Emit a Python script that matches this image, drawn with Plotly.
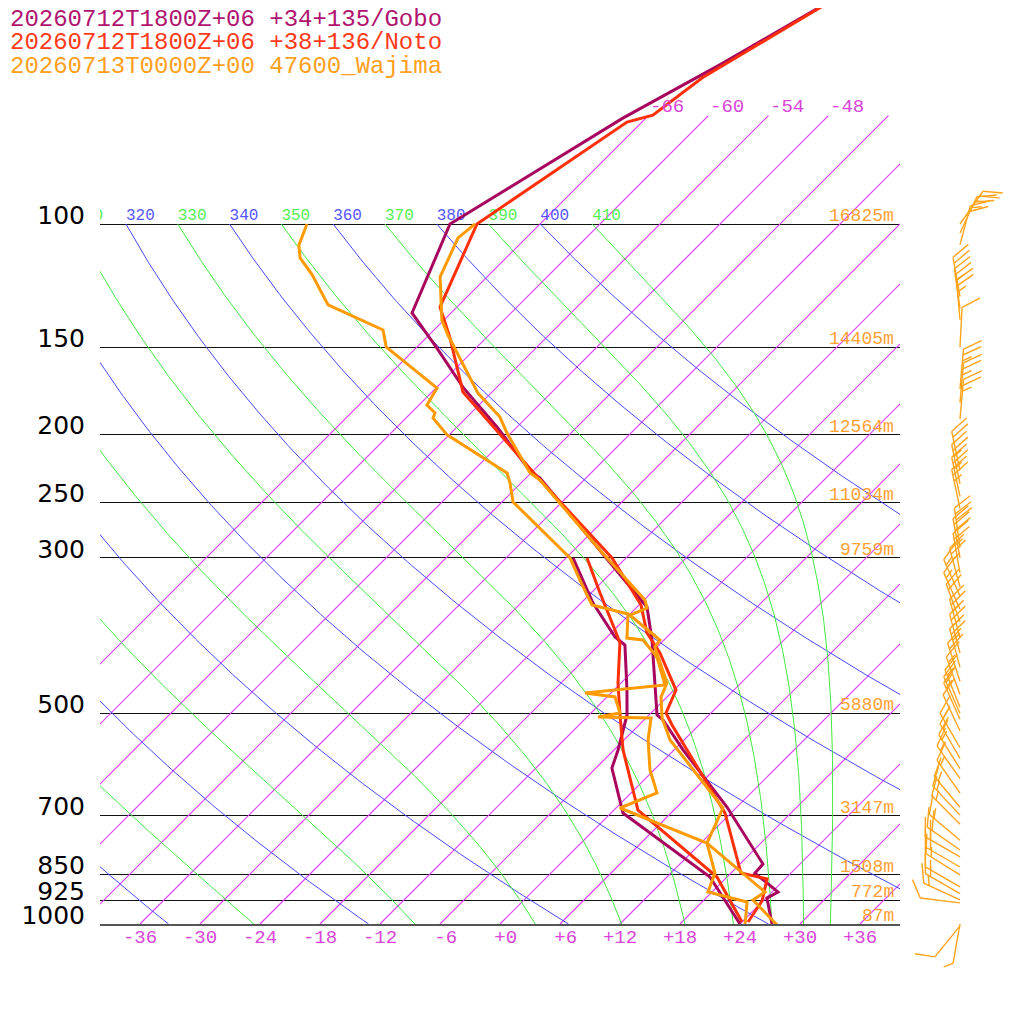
import numpy as np
import plotly.graph_objects as go

# ============================ data ============================
# pressure (hPa) / temperature (degC)

# Gobo (model +06)
gobo_p = [40, 58.9, 70.6, 100, 134, 150.4, 171, 195, 225.3, 230.6, 344.5, 352.5,
          392.9, 455.6, 502.8, 511.1, 564.1, 680.6, 821, 845.7, 900.1, 918.2, 1000]
gobo_t = [-55.2, -63.8, -68.3, -75.0, -69.9, -63.9, -57.4, -50.0, -42.3, -40.6, -18.3, -17.0,
          -13.2, -8.4, -5.2, -4.1, 0.9, 11.0, 20.3, 20.4, 24.6, 24.1, 27.2]
gobo_td_p = [300, 347.9, 389, 399.5, 463.2, 502.8, 564.1, 598.8, 694.1, 856.8, 1000]
gobo_td = [-29.3, -22.8, -17.2, -15.4, -10.7, -8.2, -5.6, -4.4, 1.2, 16.3, 24.0]

# Noto (model +06)
noto_p = [40, 61.8, 69.9, 71.5, 100, 131.4, 145.5, 173.8, 232.1, 300, 350.2, 384,
          410.1, 463.2, 499.5, 519.6, 694.1, 845.7, 862.3, 927.1, 993.4]
noto_t = [-55.4, -64.4, -65.6, -67.5, -72.3, -67.7, -63.6, -56.9, -40.4, -25.4, -17.8, -14.4,
          -11.1, -5.8, -4.5, -2.7, 11.4, 19.0, 22.2, 23.9, 24.6]
noto_td_p = [300, 336.6, 380.2, 396.9, 452.6, 502.8, 564.1, 687.4, 856.8, 993.4]
noto_td = [-27.9, -23.1, -17.9, -16.1, -12.3, -8.9, -5.1, 2.4, 17.0, 24.0]

# Wajima (observed 00Z)
waj_p = [100, 104.7, 119, 137.2, 144.1, 174.4, 188.7, 198.9, 226.8, 232.1, 292.3, 344.5,
         353.7, 362, 392.9, 402.2, 452.6, 473.9, 507.7, 545.8, 682.8, 766.2, 900.1, 924.1, 1006.6]
waj_t = [-72.5, -72.8, -70.7, -66.2, -64.1, -55.3, -50.7, -48.4, -42.1, -40.4, -27.4, -17.9,
         -16.9, -17.9, -12.4, -12.2, -7.4, -6.6, -4.4, -1.4, 10.7, 12.6, 23.3, 22.9, 28.0]
waj_td_p = [100, 107.2, 111.8, 118.2, 130.5, 141.7, 149.8, 171.5, 181.4, 186.2, 189.3, 200.1,
            226.8, 234.4, 249.5, 300, 322.6, 350.2, 360.7, 390.4, 392.9, 415.5, 455.6, 467.7,
            473.9, 499.5, 506.1, 507.7, 545.8, 602.6, 649.8, 682.8, 766.2, 845.7, 900.1, 930.2, 1006.6]
waj_td = [-89.3, -88.0, -86.6, -83.7, -79.1, -71.1, -69.1, -59.9, -59.2, -57.6, -57.3, -54.2,
          -44.4, -43.1, -40.9, -29.6, -26.4, -22.7, -18.2, -15.9, -14.1, -11.0, -7.4, -14.6,
          -11.2, -9.1, -10.9, -5.5, -3.6, -0.4, 2.6, 0.4, 12.6, 16.4, 17.6, 22.5, 24.7]

# Wajima winds: pressure, direction (deg, from), speed (kt)
wind_p = [1006, 1000, 933, 924, 905, 885, 851, 829, 802, 784, 759, 720, 699, 681, 650, 620,
          600, 580, 560, 530, 510, 500, 490, 470, 450, 430, 410, 390, 370, 355, 340, 330,
          315, 300, 290, 255, 245, 235, 225, 190, 180, 172, 150, 137, 132, 127, 107, 103, 100]
wind_dir = [219, 190, 277, 295, 300, 300, 302, 300, 300, 305, 310, 315, 317, 320, 325, 325,
            328, 330, 330, 335, 336, 336, 338, 340, 342, 345, 345, 345, 340, 336, 336, 345,
            350, 350, 352, 348, 348, 348, 348, 5, 5, 5, 3, 355, 352, 350, 15, 25, 35]
wind_spd = [10, 5, 10, 15, 15, 15, 15, 20, 20, 20, 15, 15, 15, 15, 15, 15,
            15, 15, 15, 10, 15, 15, 15, 15, 20, 25, 25, 25, 20, 15, 15, 25,
            25, 30, 30, 25, 25, 25, 20, 25, 25, 25, 10, 25, 25, 20, 20, 25, 25]

# standard levels and Wajima heights
std_levels = [1000, 925, 850, 700, 500, 300, 250, 200, 150, 100]
height_text = ["87m", "772m", "1508m", "3147m", "5880m", "9759m", "11034m", "12564m", "14405m", "16825m"]

# background line families
iso_t = list(range(-66, 37, 6))                 # isotherms, degC
dry_theta = list(range(240, 401, 20))           # dry adiabats, K
moist_theta = list(range(250, 411, 20))         # pseudo adiabats, K (theta at 100 hPa)

# x tick labels (temperature at 1000 hPa)
xtick_vals = list(range(-36, 37, 6))
xtick_text = ["-36", "-30", "-24", "-18", "-12", "\u00a0-6", "\u00a0+0", "\u00a0+6",
              "+12", "+18", "+24", "+30", "+36"]

# ============================ style ============================
C_GOBO, C_NOTO, C_WAJ = "#a8065e", "#ff3008", "#ff9a00"
C_ISO, C_DRY, C_MOIST = "#dc3cff", "#4848ff", "#44e844"
MONO = "Liberation Mono"
SKEW = 70.0   # x units (degC at 1000 hPa) per pressure decade
PX = 1024.0


def skew_x(t, p):
    return np.asarray(t, float) + SKEW * np.log10(1000.0 / np.asarray(p, float))


def dtdp(T, p):
    # pseudo-adiabatic lapse rate (K/hPa)
    Rd, cp, Lv, eps = 287.04, 1005.7, 2.501e6, 0.622
    tc = T - 273.15
    es = 6.112 * np.exp(17.67 * tc / (tc + 243.5))
    rs = eps * es / (p - es)
    return (Rd * T + Lv * rs) / (p * (cp + Lv * Lv * rs * eps / (Rd * T * T)))


def pseudo_adiabat(theta, pp):
    # integrate from 100 hPa down to 1000 hPa
    T = theta * (0.1) ** 0.2857
    out = [T]
    for i in range(1, len(pp)):
        p0, h = pp[i - 1], pp[i] - pp[i - 1]
        k1 = dtdp(T, p0)
        k2 = dtdp(T + h * k1 / 2, p0 + h / 2)
        k3 = dtdp(T + h * k2 / 2, p0 + h / 2)
        k4 = dtdp(T + h * k3, p0 + h)
        T = T + h * (k1 + 2 * k2 + 2 * k3 + k4) / 6
        out.append(T)
    return np.array(out)


def lines_trace(xs, ys, color, width=1, xa="x", ya="y"):
    return go.Scatter(x=xs, y=ys, mode="lines", line=dict(color=color, width=width),
                      hoverinfo="skip", xaxis=xa, yaxis=ya)


fig = go.Figure()
pgrid = np.logspace(2, 3, 200)     # 100 -> 1000 hPa
piso = np.logspace(np.log10(70), 3, 60)

# isotherms (sampled along pressure so they follow the log axis)
xs, ys = [], []
for t in iso_t:
    xs += list(skew_x(np.full(piso.size, t), piso)) + [None]
    ys += list(piso) + [None]
fig.add_trace(lines_trace(xs, ys, C_ISO, 1.2))

# dry adiabats
xs, ys = [], []
for th in dry_theta:
    tt = th * (pgrid / 1000) ** 0.2857 - 273.15
    xs += list(skew_x(tt, pgrid)) + [None]
    ys += list(pgrid) + [None]
fig.add_trace(lines_trace(xs, ys, C_DRY, 1))

# moist adiabats
xs, ys = [], []
for th in moist_theta:
    tt = pseudo_adiabat(th, pgrid) - 273.15
    xs += list(skew_x(tt, pgrid)) + [None]
    ys += list(pgrid) + [None]
fig.add_trace(lines_trace(xs, ys, C_MOIST, 1))

# theta labels along 100 hPa (only those reaching the diagram)
lab_x, lab_t, lab_c = [], [], []
for fam, col in [(dry_theta, "#5555ff"), (moist_theta, "#55ee55")]:
    for th in fam:
        xx = float(skew_x(th * 0.1 ** 0.2857 - 273.15, 100))
        if xx > -44:
            lab_x.append(xx)
            lab_t.append(str(th))
            lab_c.append(col)
fig.add_trace(go.Scatter(x=lab_x, y=[100] * len(lab_x), mode="text", text=lab_t,
                         textposition="top right", cliponaxis=True, hoverinfo="skip",
                         textfont=dict(family=MONO, size=16, color=lab_c)))

# soundings (temperature, dewpoint)
for p, t, pd_, td, col in [(gobo_p, gobo_t, gobo_td_p, gobo_td, C_GOBO),
                           (noto_p, noto_t, noto_td_p, noto_td, C_NOTO),
                           (waj_p, waj_t, waj_td_p, waj_td, C_WAJ)]:
    fig.add_trace(lines_trace(skew_x(t, p), p, col, 3))
    fig.add_trace(lines_trace(skew_x(td, pd_), pd_, col, 3))

# wind barbs (own axis to the right of the diagram, offsets in pixels)
bx, by = [], []
for p, d, s in zip(wind_p, wind_dir, wind_spd):
    b = np.radians(d)
    ux, uy = np.sin(b), np.cos(b)
    fx, fy = np.sin(b + np.radians(60)), np.cos(b + np.radians(60))

    def pt(dx, dy, p=p):
        return 60 + dx, p * 10 ** (-dy / 700.0)

    L = 40
    x0, y0 = pt(0, 0)
    x1, y1 = pt(L * ux, L * uy)
    bx += [x0, x1, None]
    by += [y0, y1, None]
    n_full, half = s // 10, (s % 10) >= 5
    k = 0
    for flen in [20] * n_full + ([10] if half else []):
        sx, sy = (L - 6 * k) * ux, (L - 6 * k) * uy
        a = pt(sx, sy)
        e = pt(sx + flen * fx, sy + flen * fy)
        bx += [a[0], e[0], None]
        by += [a[1], e[1], None]
        k += 1
fig.add_trace(lines_trace(bx, by, "#ffa31a", 1.4, "x2", "y2"))

# ============================ text ============================
annotations = []
# station legend
for i, (txt, col) in enumerate([("20260712T1800Z+06 +34+135/Gobo", "#b0146f"),
                                ("20260712T1800Z+06 +38+136/Noto", "#ff3a1a"),
                                ("20260713T0000Z+00 47600_Wajima", "#ffa020")]):
    annotations.append(dict(x=0, y=1 - (11 + 23.5 * i) / PX, xref="paper", yref="paper",
                            text=txt, showarrow=False, xanchor="left", yanchor="middle",
                            font=dict(family=MONO, size=24, color=col)))
# heights at right end of standard levels
for p, h in zip(std_levels, height_text):
    annotations.append(dict(x=40, y=np.log10(p), xref="x", yref="y", text=h, showarrow=False,
                            xanchor="right", yanchor="bottom", xshift=-4, yshift=-4,
                            font=dict(family=MONO, size=18, color="#ffa030")))
# isotherm labels at the top
for t in [-66, -60, -54, -48]:
    annotations.append(dict(x=float(skew_x(t, 70)), y=np.log10(70), xref="x", yref="y",
                            text=str(t), showarrow=False, xanchor="left", yanchor="bottom",
                            yshift=-4, font=dict(family=MONO, size=19, color="#d845d8")))

fig.update_layout(
    width=1024, height=1024,
    margin=dict(l=0, r=0, t=0, b=0),
    paper_bgcolor="white", plot_bgcolor="white",
    showlegend=False,
    annotations=annotations,
    xaxis=dict(domain=[92 / PX, 892 / PX], range=[-40, 40], showgrid=False, zeroline=False,
               showline=True, linecolor="#555555", linewidth=2, ticks="",
               tickvals=xtick_vals, ticktext=xtick_text, ticklabelstandoff=-6,
               tickfont=dict(family=MONO, size=19, color="#d845d8"), automargin=False),
    yaxis=dict(domain=[108 / PX, 1], type="log", range=[3, 3 - 916 / 700],
               showgrid=True, gridcolor="#111111", gridwidth=1.3, zeroline=False, showline=False,
               ticks="", tickvals=std_levels, ticktext=[str(v) for v in std_levels],
               ticklabelstandoff=14, ticklabelshift=9,
               tickfont=dict(family="DejaVu Sans", size=25, color="black"), automargin=False),
    xaxis2=dict(domain=[892 / PX, 1], range=[0, 132], anchor="y2", visible=False),
    yaxis2=dict(domain=[0, 1], type="log", range=[3 + 108 / 700, 3 - 916 / 700], anchor="x2",
                visible=False),
)

fig.write_html("out.html")
